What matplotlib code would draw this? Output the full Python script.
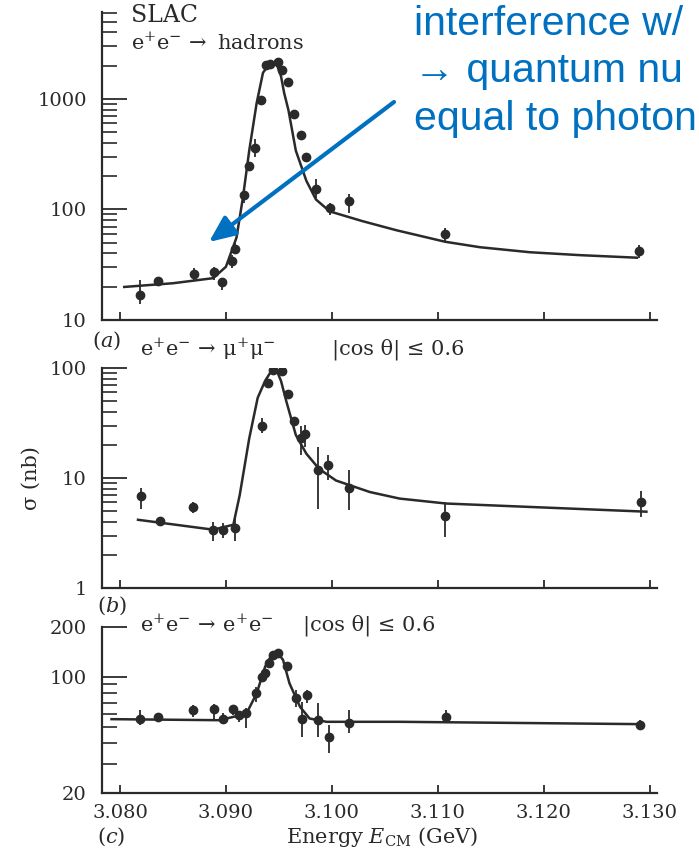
import matplotlib
matplotlib.use('Agg')
import matplotlib.pyplot as plt
from matplotlib import ticker
from matplotlib.patches import FancyArrowPatch
import numpy as np

# ---------------- data ----------------
# panel (a): e+e- -> hadrons
had_x = [3.0819, 3.0836, 3.0870, 3.0889, 3.0896, 3.0906, 3.0909, 3.0917, 3.0922, 3.0927,
         3.0933, 3.0938, 3.0942, 3.0949, 3.0953, 3.0959, 3.0964, 3.0971, 3.0976, 3.0985,
         3.0998, 3.1016, 3.1107, 3.1290]
had_y = [17.0, 22.3, 25.9, 27.3, 22.0, 34.2, 44, 136, 248, 357,
         980, 2010, 2050, 2154, 1806, 1412, 728, 474, 295, 152,
         103, 118, 60.4, 42.5]
had_lo = [13.9, 22.3, 23.1, 23.1, 18.8, 29.3, 39.8, 114, 248, 295,
          980, 2010, 2050, 2154, 1806, 1412, 728, 474, 295, 127,
          89, 93, 50.3, 36.3]
had_hi = [23.0, 22.3, 29.3, 30.3, 23.9, 38.4, 50, 157, 248, 434,
          980, 2010, 2050, 2154, 1806, 1412, 728, 474, 295, 188,
          114, 137, 68.4, 47.7]
had_fit_x = [3.0804, 3.0850, 3.0888, 3.0900, 3.0910, 3.0916, 3.0922, 3.0929, 3.0935, 3.0940,
             3.0944, 3.0948, 3.0952, 3.0955, 3.0959, 3.0966, 3.0976, 3.0985, 3.0998, 3.1029,
             3.1061, 3.1107, 3.1140, 3.1187, 3.1234, 3.1288]
had_fit_y = [19.9, 21.5, 23.9, 30.3, 55.7, 127, 340, 914, 1722, 2010,
             2070, 2050, 1603, 1128, 793, 340, 181, 123, 96, 78.3,
             64.8, 51, 45.5, 41, 38.6, 36.6]

# panel (b): e+e- -> mu+mu-
mu_x = [3.0820, 3.0838, 3.0869, 3.0888, 3.0897, 3.0909, 3.0934, 3.0940, 3.0944, 3.0953,
        3.0959, 3.0964, 3.0971, 3.0975, 3.0987, 3.0996, 3.1016, 3.1107, 3.1292]
mu_y = [6.82, 4.1, 5.5, 3.39, 3.34, 3.5, 29.5, 73.6, 95.9, 94.5,
        57.5, 32.7, 23.2, 24.9, 11.7, 13.2, 8.09, 4.55, 6.07]
mu_lo = [5.28, 4.1, 4.77, 2.67, 2.85, 2.67, 25.5, 73.6, 95.9, 94.5,
         57.5, 32.7, 16.1, 19.2, 5.28, 9.5, 5.12, 2.93, 4.46]
mu_hi = [8.1, 4.1, 6.07, 4.02, 3.88, 4.46, 35, 73.6, 95.9, 94.5,
         57.5, 32.7, 29.4, 30.4, 19.2, 16.1, 11.7, 6.07, 7.6]
mu_fit_x = [3.0817, 3.0888, 3.0907, 3.0913, 3.0922, 3.0930, 3.0937, 3.0943, 3.0948, 3.0952,
            3.0957, 3.0966, 3.0976, 3.0988, 3.1004, 3.1036, 3.1064, 3.1108, 3.1297]
mu_fit_y = [4.17, 3.39, 3.76, 6.97, 22.9, 53.6, 76.4, 94.4, 94.4, 76.4,
            49.9, 24.6, 16.6, 12.1, 9.48, 7.45, 6.5, 5.86, 4.94]

# panel (c): e+e- -> e+e-
ee_x = [3.0819, 3.0836, 3.0869, 3.0889, 3.0897, 3.0907, 3.0912, 3.0919, 3.0928, 3.0934,
        3.0937, 3.0941, 3.0944, 3.0949, 3.0958, 3.0966, 3.0972, 3.0977, 3.0987, 3.0997,
        3.1016, 3.1108, 3.1291]
ee_y = [56.1, 56.9, 63, 63.9, 56.1, 63.6, 58.7, 60.7, 80.1, 100,
        104.8, 121.4, 135, 139.5, 116, 74.1, 56.1, 77.6, 54.8, 43.6,
        52.8, 57.4, 51.2]
ee_lo = [51.2, 56.9, 57.4, 54.8, 52.4, 58.7, 53.6, 48.9, 70.7, 93.3,
         104.8, 121.4, 135, 139.5, 116, 65.9, 43.6, 69.2, 43.6, 34.6,
         45.6, 53.6, 47.8]
ee_hi = [63, 56.9, 67.5, 68.2, 60.3, 67.5, 61.5, 64.5, 87.1, 107,
         104.8, 121.4, 135, 139.5, 116, 83.2, 70.7, 83.2, 69.2, 51.2,
         63, 63, 54.8]
ee_fit_x = [3.0792, 3.0894, 3.0910, 3.0921, 3.0929, 3.0937, 3.0943, 3.0949, 3.0954, 3.0960,
            3.0970, 3.0979, 3.0995, 3.1036, 3.1064, 3.1290]
ee_fit_y = [55.6, 54.8, 58, 63, 79.4, 114.9, 135, 139.5, 126, 91.3,
            65.9, 56.1, 53.6, 53.6, 53.6, 51.9]

x_ticks = [3.080, 3.090, 3.100, 3.110, 3.120, 3.130]
x_ticklabels = ['3.080', '3.090', '3.100', '3.110', '3.120', '3.130']
a_yticks, a_ylabels = [10, 100, 1000], ['10', '100', '1000']
b_yticks, b_ylabels = [1, 10, 100], ['1', '10', '100']
c_yticks, c_ylabels = [20, 100, 200], ['20', '100', '200']

note_lines = ['interference w/', '\u2192 quantum nu', 'equal to photon']

# ---------------- styling ----------------
plt.rcParams['font.family'] = ['DejaVu Serif']
plt.rcParams['mathtext.fontset'] = 'dejavuserif'

W, H = 699, 852
fig = plt.figure(figsize=(W / 100, H / 100), dpi=100)
fig.patch.set_facecolor('white')
INK = '#2a2a2a'
BLUE = '#0070C0'
XLIM = (3.0783, 3.1307)


def rect(top, bottom, left=102, right=657):
    return [left / W, 1 - bottom / H, (right - left) / W, (bottom - top) / H]


def decade_minors(lo, hi):
    out = []
    d = 10 ** np.floor(np.log10(lo))
    while d < hi:
        for m in range(2, 10):
            v = m * d
            if lo < v < hi:
                out.append(v)
        d *= 10
    return out


def setup(ax, ylim, yticks, ylabels, yminor, show_x=False):
    ax.set_yscale('log')
    ax.set_xlim(*XLIM)
    ax.set_ylim(*ylim)
    for s in ['top', 'right']:
        ax.spines[s].set_visible(False)
    for s in ['left', 'bottom']:
        ax.spines[s].set_linewidth(1.6)
        ax.spines[s].set_color(INK)
    ax.set_xticks(x_ticks)
    ax.set_xticklabels(x_ticklabels if show_x else [''] * len(x_ticks))
    ax.set_yticks(yticks)
    ax.set_yticklabels(ylabels)
    ax.yaxis.set_minor_locator(ticker.FixedLocator(yminor))
    ax.yaxis.set_minor_formatter(ticker.NullFormatter())
    ax.xaxis.set_minor_locator(ticker.NullLocator())
    ax.tick_params(axis='y', which='major', direction='in', length=18, width=1.3,
                   color=INK, labelsize=14, labelcolor=INK, pad=11)
    ax.tick_params(axis='y', which='minor', direction='in', length=10.5, width=1.2, color=INK)
    ax.tick_params(axis='x', which='major', direction='in', length=6, width=1.3,
                   color=INK, labelsize=14, labelcolor=INK, pad=8)
    ax.patch.set_alpha(0)


def draw(ax, x, y, lo, hi, fx, fy):
    x = np.array(x); y = np.array(y); lo = np.array(lo); hi = np.array(hi)
    ax.plot(fx, fy, color=INK, lw=1.8, zorder=2, solid_joinstyle='round')
    ax.errorbar(x, y, yerr=[y - lo, hi - y], fmt='o', ms=6, mfc=INK, mec=INK,
                ecolor=INK, elinewidth=1.3, capsize=0, zorder=3)


axa = fig.add_axes(rect(12, 320))
setup(axa, (10, 6100), a_yticks, a_ylabels, decade_minors(10, 6100))
draw(axa, had_x, had_y, had_lo, had_hi, had_fit_x, had_fit_y)

axb = fig.add_axes(rect(368, 588))
setup(axb, (1, 100), b_yticks, b_ylabels, decade_minors(1, 100))
draw(axb, mu_x, mu_y, mu_lo, mu_hi, mu_fit_x, mu_fit_y)

axc = fig.add_axes(rect(626.7, 793))
setup(axc, (20, 200), c_yticks, c_ylabels, [30, 40, 50, 60, 70, 80, 90], show_x=True)
draw(axc, ee_x, ee_y, ee_lo, ee_hi, ee_fit_x, ee_fit_y)


def ftext(px, py, s, **kw):
    kw.setdefault('color', INK)
    kw.setdefault('fontsize', 15)
    kw.setdefault('va', 'center')
    kw.setdefault('ha', 'left')
    fig.text(px / W, 1 - py / H, s, **kw)


ftext(131, 16, 'SLAC', fontsize=17)
ftext(131, 43, r'$\mathrm{e^{+}e^{-}}\,\rightarrow$ hadrons')
ftext(92, 341, r'($a$)')
ftext(140, 349, r'$\mathrm{e^{+}e^{-}}\,\rightarrow\,\mathrm{\mu^{+}\mu^{-}}$')
ftext(332, 349, r'|cos θ| ≤ 0.6')
ftext(97, 606, r'($b$)')
ftext(140, 625, r'$\mathrm{e^{+}e^{-}}\,\rightarrow\,\mathrm{e^{+}e^{-}}$')
ftext(303, 625, r'|cos θ| ≤ 0.6')
ftext(97, 837, r'($c$)')
ftext(382, 837, r'Energy $E_{\mathrm{CM}}$ (GeV)', ha='center')
ftext(31, 478, 'σ (nb)', rotation=90, ha='center')

# blue annotation
for line, base in zip(note_lines, [35, 82, 130]):
    fig.text(414 / W, 1 - base / H, line, color=BLUE, fontsize=29.5,
             family=['Liberation Sans', 'DejaVu Sans'], ha='left', va='baseline')

arrow = FancyArrowPatch((394 / W, 1 - 102 / H), (209 / W, 1 - 242 / H),
                        transform=fig.transFigure,
                        arrowstyle='-|>,head_length=0.8,head_width=0.35',
                        mutation_scale=20, lw=3, color=BLUE, shrinkA=0, shrinkB=0)
fig.add_artist(arrow)

fig.savefig('out.png', dpi=100, facecolor='white')
